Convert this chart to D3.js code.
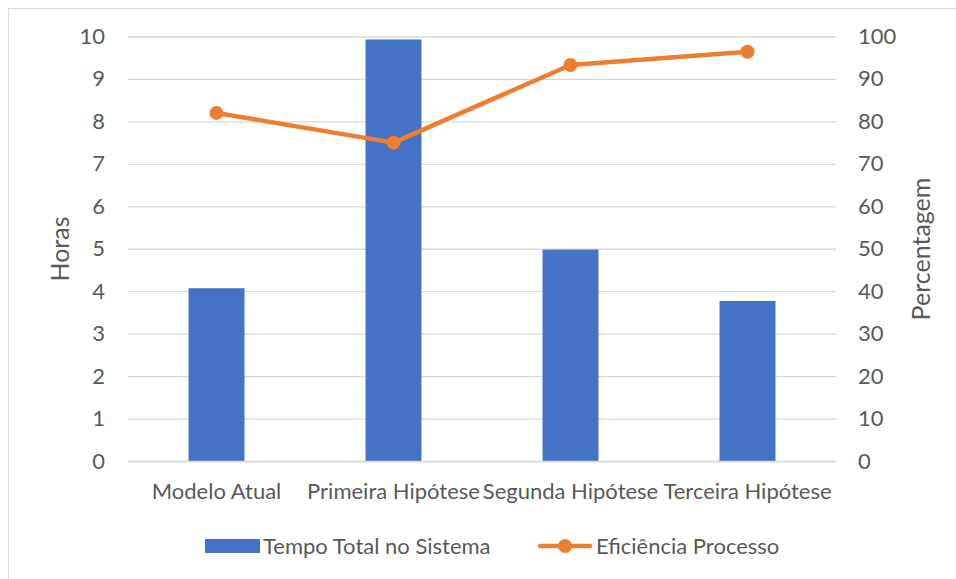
<!DOCTYPE html>
<html><head><meta charset="utf-8">
<script src="https://cdn.jsdelivr.net/npm/d3@7"></script>
<style>body{margin:0;background:#fff}svg{display:block}text{font-family:Lato,"Open Sans",sans-serif;fill:#595959}</style>
</head><body><svg id="c" width="956" height="579"></svg>
<script>
const categories = ["Modelo Atual","Primeira Hipótese","Segunda Hipótese","Terceira Hipótese"];
const tempoTotal = [4.07, 9.93, 4.98, 3.77];
const eficiencia = [82.0, 75.0, 93.3, 96.4];
const leftTicks = [0,1,2,3,4,5,6,7,8,9,10];
const rightTicks = [0,10,20,30,40,50,60,70,80,90,100];
const seriesNames = ["Tempo Total no Sistema","Eficiência Processo"];
const axisTitles = ["Horas","Percentagem"];

const svg = d3.select("#c");
const FS = 22;
svg.append("rect").attr("x",8.5).attr("y",8.5).attr("width",960).attr("height",600)
  .attr("fill","none").attr("stroke","#d9d9d9");

const x = d3.scaleBand().domain(categories).range([128,836]).paddingInner(0.684).paddingOuter(0.342);
const yL = d3.scaleLinear().domain([0,10]).range([461,36.5]);
const yR = d3.scaleLinear().domain([0,100]).range([461,36.5]);

// gridlines
const grid = d3.axisLeft(yL).tickValues(leftTicks).tickSize(-(836-128)).tickFormat("");
const gg = svg.append("g").attr("transform","translate(128,0)").call(grid);
gg.select(".domain").remove();
gg.selectAll("line").attr("stroke","#d9d9d9").attr("stroke-width",1.3);

// left axis labels
const la = svg.append("g").attr("transform","translate(128,0)")
  .call(d3.axisLeft(yL).tickValues(leftTicks).tickSize(0).tickPadding(23));
la.select(".domain").remove();
la.selectAll("text").style("font-size",FS+"px").style("fill","#595959").style("font-family","Lato");

const ra = svg.append("g").attr("transform","translate(836,0)")
  .call(d3.axisRight(yR).tickValues(rightTicks).tickSize(0).tickPadding(22));
ra.select(".domain").remove();
ra.selectAll("text").style("font-size",FS+"px").style("fill","#595959").style("font-family","Lato");

// bars
svg.append("g").selectAll("rect").data(categories).join("rect")
  .attr("x",d=>x(d)).attr("width",x.bandwidth())
  .attr("y",(d,i)=>yL(tempoTotal[i])).attr("height",(d,i)=>yL(0)-yL(tempoTotal[i]))
  .attr("fill","#4472C4");

// line
const pts = categories.map((c,i)=>[x(c)+x.bandwidth()/2, yR(eficiencia[i])]);
svg.append("path").attr("d",d3.line()(pts)).attr("fill","none")
  .attr("stroke","#ED7D31").attr("stroke-width",4.5).attr("stroke-linejoin","round").attr("stroke-linecap","round");
svg.append("g").selectAll("circle").data(pts).join("circle")
  .attr("cx",d=>d[0]).attr("cy",d=>d[1]).attr("r",7).attr("fill","#ED7D31");

// x labels
const xa = svg.append("g").attr("transform","translate(0,461)")
  .call(d3.axisBottom(x).tickSize(0).tickPadding(22));
xa.select(".domain").attr("stroke","#d9d9d9").attr("stroke-width",1.3);
xa.selectAll("text").style("font-size",FS+"px").style("fill","#595959").style("font-family","Lato");

// axis titles
svg.append("text").attr("transform","translate(69,249) rotate(-90)").attr("text-anchor","middle")
  .style("font-size","25px").text(axisTitles[0]);
svg.append("text").attr("transform","translate(930,249) rotate(-90)").attr("text-anchor","middle")
  .style("font-size","25px").text(axisTitles[1]);

// legend
const lg = svg.append("g");
lg.append("rect").attr("x",205).attr("y",539).attr("width",55).attr("height",14).attr("fill","#4472C4");
lg.append("text").attr("x",263).attr("y",554).style("font-size",FS+"px").text(seriesNames[0]);
lg.append("line").attr("x1",540).attr("x2",590).attr("y1",546).attr("y2",546)
  .attr("stroke","#ED7D31").attr("stroke-width",4.5).attr("stroke-linecap","round");
lg.append("circle").attr("cx",565).attr("cy",546).attr("r",7).attr("fill","#ED7D31");
lg.append("text").attr("x",596).attr("y",554).style("font-size",FS+"px").text(seriesNames[1]);
</script></body></html>
